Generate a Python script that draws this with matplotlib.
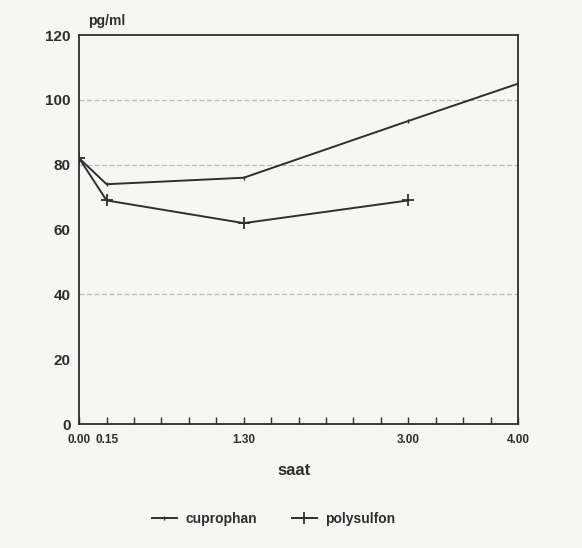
import matplotlib.pyplot as plt

# time in hours, values in pg/ml
cuprophan_t = [0.0, 0.25, 1.5, 3.0, 4.0]
cuprophan_v = [82, 74, 76, 93.5, 105]
polysulfon_t = [0.0, 0.25, 1.5, 3.0]
polysulfon_v = [82, 69, 62, 69]

xtick_pos = [0.0, 0.25, 1.5, 3.0, 4.0]
xtick_labels = ["0.00", "0.15", "1.30", "3.00", "4.00"]
yticks = [0, 20, 40, 60, 80, 100, 120]

plt.rcParams["font.family"] = ["Liberation Sans", "DejaVu Sans"]
ink = "#2e2e2e"

fig = plt.figure(figsize=(5.82, 5.48), dpi=100, facecolor="#f6f6f4")
ax = fig.add_axes([0.136, 0.226, 0.754, 0.710])
ax.set_facecolor("#f6f6f4")

for v in [40, 80, 100]:
    ax.axhline(v, color="#b8b8b8", lw=0.9, ls=(0, (4, 2)), zorder=1)

ax.plot(cuprophan_t, cuprophan_v, color=ink, lw=1.4, marker="|",
        markersize=3, label="cuprophan", zorder=3)
ax.plot(polysulfon_t, polysulfon_v, color=ink, lw=1.4, marker="+",
        markersize=9, markeredgewidth=1.3, label="polysulfon", zorder=3)

ax.set_xlim(0, 4)
ax.set_ylim(0, 120)
ax.set_xticks([i * 0.25 for i in range(17)])
ax.set_xticklabels([""] * 17)
ax.tick_params(axis="x", direction="in", length=5, width=1, color=ink)
for p, lab in zip(xtick_pos, xtick_labels):
    ax.text(p, -3.0, lab, ha="center", va="top", fontsize=8.5,
            fontweight="bold", color=ink, transform=ax.transData)

ax.set_yticks(yticks)
ax.set_yticklabels([str(v) for v in yticks], fontsize=11,
                   fontweight="bold", color=ink)
ax.tick_params(axis="y", length=0, pad=6)

for s in ax.spines.values():
    s.set_color(ink)
    s.set_linewidth(1.3)

fig.text(0.152, 0.975, "pg/ml", ha="left", va="top", fontsize=10,
         fontweight="bold", color=ink)
fig.text(0.505, 0.142, "saat", ha="center", va="center", fontsize=12,
         fontweight="bold", color=ink)

leg = fig.legend(loc="center", bbox_to_anchor=(0.47, 0.053), ncol=2,
                 frameon=False, fontsize=10, handlelength=1.8,
                 columnspacing=2.5, handletextpad=0.6)
for t in leg.get_texts():
    t.set_fontweight("bold")
    t.set_color(ink)

fig.savefig("out.png", dpi=100, facecolor=fig.get_facecolor())
